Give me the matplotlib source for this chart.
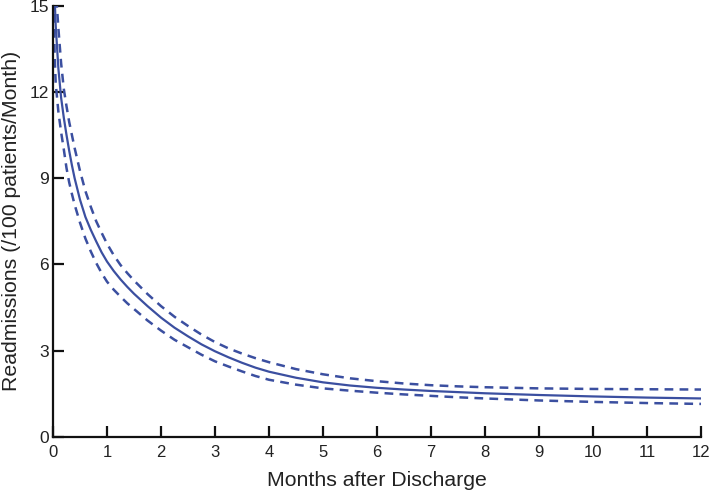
import matplotlib
matplotlib.use("Agg")
import matplotlib.pyplot as plt

# Data
center_x = [0.02, 0.05, 0.1, 0.15, 0.2, 0.25, 0.3, 0.35, 0.4, 0.5, 0.6, 0.7, 0.8, 0.9, 1.0, 1.125, 1.25, 1.375, 1.5, 1.75,
            2.0, 2.25, 2.5, 2.75, 3.0, 3.25, 3.5, 3.75, 4.0, 4.5, 5.0, 5.5, 6.0, 6.5, 7.0, 7.5, 8.0, 9.0, 10.0, 11.0, 12.0]
center_y = [15.8, 14.3, 12.8, 11.8, 11.1, 10.5, 9.95, 9.45, 9.0, 8.25, 7.65, 7.2, 6.8, 6.42, 6.1, 5.77, 5.48, 5.22, 4.98, 4.55,
            4.15, 3.8, 3.5, 3.22, 2.98, 2.77, 2.58, 2.41, 2.27, 2.06, 1.9, 1.79, 1.71, 1.65, 1.6, 1.56, 1.52, 1.46, 1.41, 1.37, 1.34]

upper_x = [0.05, 0.1, 0.15, 0.2, 0.25, 0.3, 0.35, 0.4, 0.5, 0.6, 0.7, 0.8, 0.9, 1.0, 1.125, 1.25, 1.375, 1.5, 1.75,
           2.0, 2.25, 2.5, 2.75, 3.0, 3.25, 3.5, 3.75, 4.0, 4.5, 5.0, 5.5, 6.0, 6.5, 7.0, 7.5, 8.0, 9.0, 10.0, 11.0, 12.0]
upper_y = [15.6, 14.2, 13.0, 12.1, 11.5, 10.95, 10.5, 10.05, 9.25, 8.55, 8.0, 7.5, 7.1, 6.72, 6.32, 5.98, 5.7, 5.44, 4.97,
           4.55, 4.18, 3.86, 3.56, 3.3, 3.08, 2.9, 2.74, 2.6, 2.36, 2.18, 2.04, 1.94, 1.86, 1.8, 1.76, 1.73, 1.69, 1.67, 1.66, 1.65]

lower_x = [0.01, 0.03, 0.05, 0.1, 0.15, 0.2, 0.25, 0.3, 0.35, 0.4, 0.5, 0.6, 0.7, 0.8, 0.9, 1.0, 1.125, 1.25, 1.375, 1.5, 1.75,
           2.0, 2.25, 2.5, 2.75, 3.0, 3.25, 3.5, 3.75, 4.0, 4.5, 5.0, 5.5, 6.0, 6.5, 7.0, 7.5, 8.0, 9.0, 10.0, 11.0, 12.0]
lower_y = [15.5, 13.3, 12.3, 11.3, 10.6, 10.0, 9.35, 8.85, 8.45, 8.08, 7.45, 6.9, 6.45, 6.05, 5.7, 5.4, 5.12, 4.88, 4.65, 4.45, 4.05,
           3.7, 3.38, 3.12, 2.86, 2.63, 2.45, 2.28, 2.12, 1.99, 1.82, 1.69, 1.61, 1.54, 1.48, 1.43, 1.38, 1.34, 1.27, 1.22, 1.18, 1.15]

x_ticks = list(range(0, 13))
y_ticks = [0, 3, 6, 9, 12, 15]

plt.rcParams['font.family'] = ['Liberation Sans', 'DejaVu Sans']

W, H = 709, 493
fig = plt.figure(figsize=(W / 100, H / 100), dpi=100)
ax = fig.add_axes([53 / W, 1 - 437 / H, (701 - 53) / W, (437 - 5.5) / H])

color = '#3b4fa0'
ax.plot(center_x, center_y, color=color, lw=1.6, solid_joinstyle='round')
ax.plot(upper_x, upper_y, color=color, lw=1.8, linestyle=(0, (3.5, 2.5)))
ax.plot(lower_x, lower_y, color=color, lw=1.8, linestyle=(0, (3.5, 2.5)))

ax.set_xlim(0, 12)
ax.set_ylim(0, 15)
ax.set_xticks(x_ticks)
ax.set_yticks(y_ticks)
ax.spines['top'].set_visible(False)
ax.spines['right'].set_visible(False)
for s in ['left', 'bottom']:
    ax.spines[s].set_linewidth(1.6)
    ax.spines[s].set_color('#111111')
ax.tick_params(axis='both', direction='in', length=8, width=1.6, color='#111111',
               labelsize=12.5, labelcolor='#222222')
ax.tick_params(axis='x', pad=6, labelsize=12)
ax.tick_params(axis='y', pad=3)

ax.set_xlabel('Months after Discharge', fontsize=15.3, color='#222222', labelpad=8)
ax.set_ylabel('Readmissions (/100 patients/Month)', fontsize=15.3, color='#222222', labelpad=6)

fig.savefig('out.png', dpi=100)
